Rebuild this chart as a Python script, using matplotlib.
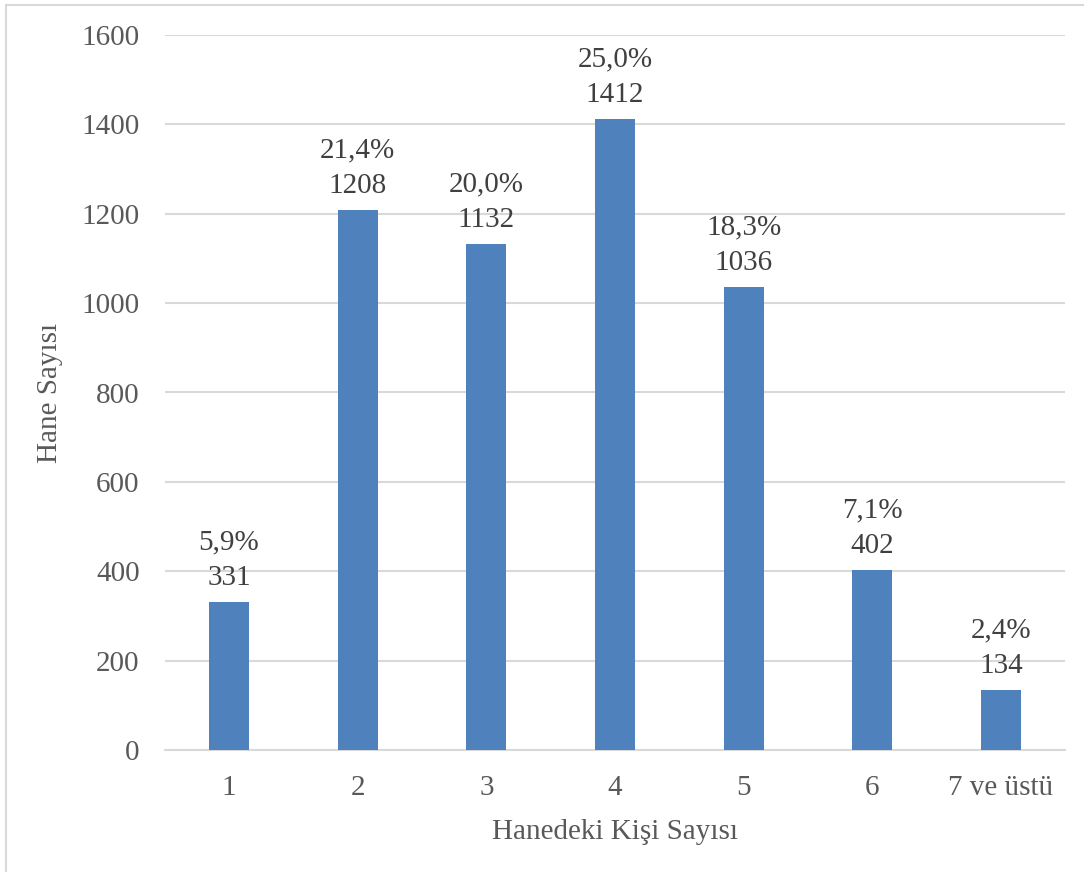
import matplotlib
matplotlib.use("Agg")
import matplotlib.pyplot as plt
from matplotlib.patches import Rectangle

# Household size distribution
categories = ["1", "2", "3", "4", "5", "6", "7 ve üstü"]
households = [331, 1208, 1132, 1412, 1036, 402, 134]
percent_labels = ["5,9%", "21,4%", "20,0%", "25,0%", "18,3%", "7,1%", "2,4%"]
y_ticks = [0, 200, 400, 600, 800, 1000, 1200, 1400, 1600]

plt.rcParams["font.family"] = ["Liberation Serif", "DejaVu Serif"]

W, H = 1084, 872
fig = plt.figure(figsize=(W / 100, H / 100), dpi=100)
ax = fig.add_axes([164.7 / W, 1 - 750 / H, (1065.3 - 164.7) / W, (750 - 35) / H])

bar_color = "#4F81BD"
x = range(len(categories))
bars = ax.bar(x, households, width=0.31, color=bar_color, zorder=3)

for xi, v, p in zip(x, households, percent_labels):
    ax.annotate(f"{p}\n{v}", (xi, v), xytext=(0, 8), textcoords="offset points",
                ha="center", va="bottom", fontsize=21, color="#404040",
                linespacing=1.5)

ax.set_xlim(-0.5, len(categories) - 0.5)
ax.set_ylim(0, 1600)
ax.set_yticks(y_ticks)
ax.set_xticks(list(x))
ax.set_xticklabels(categories)

ax.grid(axis="y", color="#D9D9D9", linewidth=1.5, zorder=0)
for s in ["top", "right", "left"]:
    ax.spines[s].set_visible(False)
ax.spines["bottom"].set_color("#D9D9D9")
ax.spines["bottom"].set_linewidth(1.5)

ax.tick_params(axis="both", length=0, labelsize=21, labelcolor="#595959")
ax.tick_params(axis="y", pad=18)
ax.tick_params(axis="x", pad=18)

ax.set_ylabel("Hane Sayısı", fontsize=21, color="#595959", labelpad=13)
ax.set_xlabel("Hanedeki Kişi Sayısı", fontsize=21, color="#595959", labelpad=13)

# Chart area frame
fig.patches.append(Rectangle((6 / W, -0.5), 2.0, 1 - 5 / H + 0.5,
                             transform=fig.transFigure, fill=False,
                             edgecolor="#D9D9D9", linewidth=1.5))

fig.savefig("out.png", dpi=100)
